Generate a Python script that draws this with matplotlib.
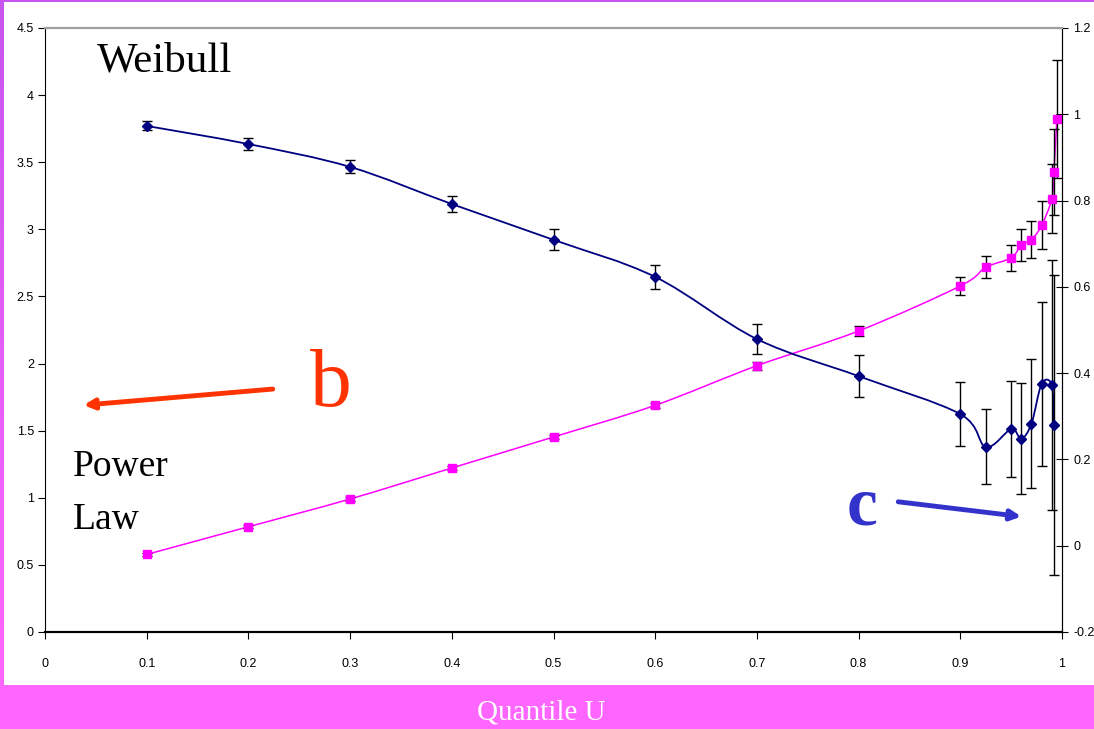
import numpy as np
import matplotlib
matplotlib.use("Agg")
import matplotlib.pyplot as plt
from matplotlib.path import Path
from matplotlib.patches import PathPatch, Rectangle
from matplotlib.colors import LinearSegmentedColormap

# ── data ──────────────────────────────────────────────────────────────────────
quantile = [0.1, 0.2, 0.3, 0.4, 0.5, 0.6, 0.7, 0.8, 0.9, 0.925, 0.95,
            0.96, 0.97, 0.98, 0.99, 0.992, 0.995]

# power law exponent b (left axis, magenta squares)
power_b = [0.578, 0.784, 0.991, 1.222, 1.453, 1.689, 1.984, 2.243, 2.578,
           2.717, 2.787, 2.884, 2.923, 3.03, 3.229, 3.430, 3.823]
power_err = [0.012, 0.012, 0.015, 0.015, 0.015, 0.02, 0.03, 0.04, 0.067,
             0.083, 0.10, 0.12, 0.14, 0.18, 0.26, 0.32, 0.44]

# Weibull exponent c (right axis, navy diamonds)
weib_x = quantile[:16]
weib_c = [0.973, 0.931, 0.878, 0.792, 0.709, 0.623, 0.479, 0.393, 0.305,
          0.229, 0.270, 0.248, 0.283, 0.375, 0.372, 0.280]
weib_err = [0.0105, 0.014, 0.015, 0.019, 0.024, 0.028, 0.035, 0.049, 0.075,
            0.087, 0.111, 0.128, 0.150, 0.191, 0.29, 0.347]

x_ticks = [0, 0.1, 0.2, 0.3, 0.4, 0.5, 0.6, 0.7, 0.8, 0.9, 1]
left_ticks = [0, 0.5, 1, 1.5, 2, 2.5, 3, 3.5, 4, 4.5]
right_ticks = [-0.2, 0, 0.2, 0.4, 0.6, 0.8, 1, 1.2]

NAVY = "#000080"
MAGENTA = "#FF00FF"
BAND = "#FF66FF"


def smooth_path(xs, ys):
    """Excel-style smoothed line: cubic Bezier segments (Catmull-Rom tangents)."""
    pts = np.column_stack([xs, ys]).astype(float)
    n = len(pts)
    verts = [pts[0]]
    codes = [Path.MOVETO]
    for i in range(n - 1):
        p0 = pts[max(i - 1, 0)]
        p1 = pts[i]
        p2 = pts[i + 1]
        p3 = pts[min(i + 2, n - 1)]
        c1 = p1 + (p2 - p0) / 6.0
        c2 = p2 - (p3 - p1) / 6.0
        verts += [c1, c2, p2]
        codes += [Path.CURVE4] * 3
    return Path(verts, codes)


fig = plt.figure(figsize=(10.94, 7.29), dpi=100)
fig.patch.set_facecolor("white")

# ── frame decoration ─────────────────────────────────────────────────────────
fig.patches.append(Rectangle((0, 0), 1, 44 / 729, transform=fig.transFigure,
                             facecolor=BAND, edgecolor="none", zorder=0))
fig.patches.append(Rectangle((0, 1 - 2 / 729), 1, 2 / 729, transform=fig.transFigure,
                             facecolor="#C855EE", edgecolor="none", zorder=0))
strip = fig.add_axes([0, 44 / 729, 4 / 1094, 1 - 46 / 729])
grad = LinearSegmentedColormap.from_list("g", ["#FF66FF", "#C855EE"])
strip.imshow(np.linspace(0, 1, 100)[:, None], aspect="auto", cmap=grad,
             origin="lower")
strip.axis("off")

fig.text(0.495, 1 - 713 / 729, "Quantile U", color="white", fontsize=21,
         family="Liberation Serif", ha="center", va="center")

# ── main axes ────────────────────────────────────────────────────────────────
ax = fig.add_axes([45 / 1094, 1 - 632 / 729, 1017 / 1094, 604 / 729])
ax2 = ax.twinx()

ax.set_xlim(0, 1)
ax.set_ylim(0, 4.5)
ax2.set_ylim(-0.2, 1.2)

# power law (left axis)
ax.add_patch(PathPatch(smooth_path(quantile, power_b), facecolor="none",
                       edgecolor=MAGENTA, lw=1.1, zorder=2))
ax.errorbar(quantile, power_b, yerr=power_err, fmt="none", ecolor="black",
            elinewidth=1, capsize=3.5, capthick=1, zorder=3)
ax.plot(quantile, power_b, "s", color=MAGENTA, ms=6, zorder=4)

# Weibull (right axis)
ax2.add_patch(PathPatch(smooth_path(weib_x, weib_c), facecolor="none",
                        edgecolor=NAVY, lw=1.3, zorder=2))
ax2.errorbar(weib_x, weib_c, yerr=weib_err, fmt="none", ecolor="black",
             elinewidth=1, capsize=3.5, capthick=1, zorder=3)
ax2.plot(weib_x, weib_c, "D", color=NAVY, ms=5.5, zorder=4)

# ticks / spines
ax.set_xticks(x_ticks)
ax.set_xticklabels([f"{v:g}" for v in x_ticks])
ax.set_yticks(left_ticks)
ax.set_yticklabels([f"{v:g}" for v in left_ticks])
ax2.set_yticks(right_ticks)
ax2.set_yticklabels([f"{v:g}" for v in right_ticks])

ax.tick_params(axis="x", direction="out", length=5, pad=14, labelsize=9,
               colors="black")
ax.tick_params(axis="y", direction="out", length=5, pad=3, labelsize=9)
ax2.tick_params(axis="y", direction="inout", length=8, pad=4, labelsize=9)
for a in (ax, ax2):
    for lab in a.get_xticklabels() + a.get_yticklabels():
        lab.set_family("Liberation Sans")
    a.spines["top"].set_color("#A0A0A0")
    a.spines["top"].set_linewidth(1.5)
    a.spines["bottom"].set_linewidth(1.5)
    a.patch.set_visible(False)
ax2.spines["left"].set_visible(False)

# ── annotations ──────────────────────────────────────────────────────────────
serif = "Liberation Serif"
ax.text(0.051, 4.25, "Weibull", fontsize=31, family=serif, va="center")
ax.text(0.027, 1.23, "Power", fontsize=27, family=serif, va="center")
ax.text(0.027, 0.84, "Law", fontsize=27, family=serif, va="center")
ax.text(0.281, 1.83, "b", fontsize=60, family=serif, color="#FF3300",
        va="center", ha="center")
ax.text(0.803, 0.93, "c", fontsize=50, family=serif, color="#3333CC",
        fontweight="bold", va="center", ha="center")

ax.annotate("", xy=(0.038, 1.69), xytext=(0.224, 1.81),
            arrowprops=dict(arrowstyle="-|>,head_length=0.6,head_width=0.3",
                            color="#FF3300", lw=3.5, shrinkA=0, shrinkB=0))
ax.annotate("", xy=(0.96, 0.86), xytext=(0.839, 0.97),
            arrowprops=dict(arrowstyle="-|>,head_length=0.6,head_width=0.3",
                            color="#3333CC", lw=3.5, shrinkA=0, shrinkB=0))

fig.savefig("out.png", dpi=100)
